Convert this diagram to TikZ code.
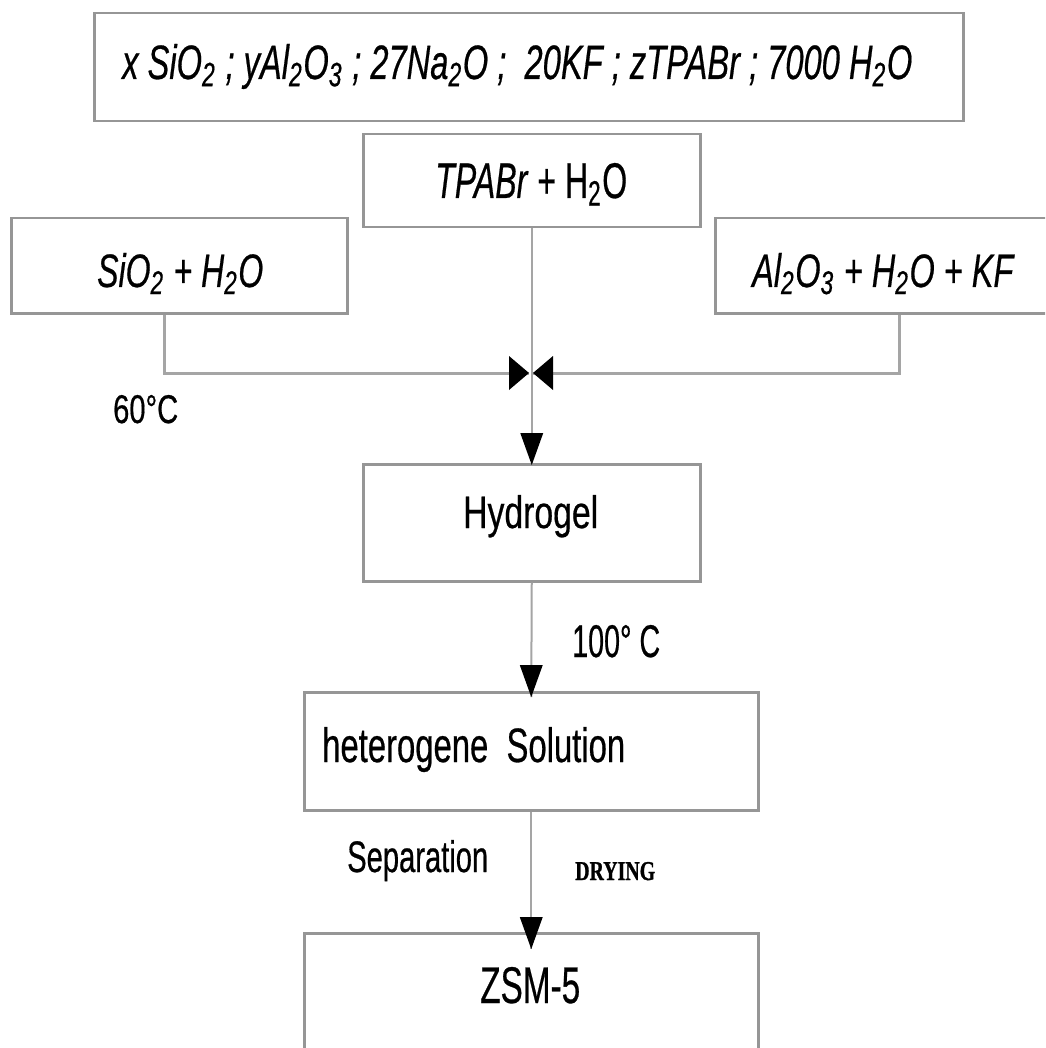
\documentclass[tikz,border=0pt]{standalone}
\usepackage{graphicx}
\usepackage{fontspec}
\setmainfont{Liberation Sans}[FakeBold=0.6,ItalicFeatures={FakeBold=0.6}]
\newfontfamily\dryfont{Liberation Serif}[BoldFeatures={FakeBold=1.2}]
\usetikzlibrary{arrows.meta}
\newcommand{\fitt}[3]{\resizebox{#1pt}{#2pt}{#3}}
\newcommand{\chsub}[1]{\textsubscript{#1}}
\definecolor{boxgray}{RGB}{150,150,150}
\definecolor{linegray}{RGB}{165,165,165}
\tikzset{
  boxnode/.style={draw=boxgray, line width=2.5pt, fill=white, inner sep=0pt, anchor=north west},
  lbl/.style={inner sep=0pt, anchor=base west, text=black},
  sideconn/.style={draw=linegray, line width=3pt},
  midconn/.style={draw=linegray, line width=2pt},
}
\begin{document}
\begin{tikzpicture}[x=1pt,y=-1pt]
\clip (0,0) rectangle (1045,1048);
\fill[white] (0,0) rectangle (1045,1048);
% boxes
\node[boxnode, minimum width=869pt, minimum height=108pt] (top) at (93,12) {};
\node[boxnode, minimum width=337pt, minimum height=93pt] (tpa) at (362,133) {};
\node[boxnode, minimum width=336pt, minimum height=95pt] (sio) at (10,217) {};
\node[boxnode, minimum width=346pt, minimum height=95pt] (alo) at (714,217) {};
\node[boxnode, minimum width=337pt, minimum height=117pt] (hyd) at (362,463) {};
\node[boxnode, minimum width=454pt, minimum height=118pt] (het) at (303,691) {};
\node[boxnode, minimum width=454pt, minimum height=140pt] (zsm) at (303,932) {};
% junction points
\coordinate (meetL) at (529,373);
\coordinate (meetR) at (533,373);
% connectors
\draw[sideconn] ([xshift=-15pt]sio.south) |- (meetL);
\draw[sideconn] ([xshift=11pt]alo.south) |- (meetR);
\fill[black] (meetL) -- ++(-20,-17) -- ++(0,34) -- cycle;
\fill[black] (meetR) -- ++(20,-17) -- ++(0,34) -- cycle;
\draw[midconn] (tpa.south) -- (hyd.north);
\fill[black] ([yshift=-2pt]hyd.north) -- ++(-11.5,-32) -- ++(23,0) -- cycle;
\draw[midconn] (hyd.south) -- ([yshift=-6pt]het.north);
\fill[black] ([yshift=-6pt]het.north) -- ++(-11.5,-32) -- ++(23,0) -- cycle;
\draw[midconn] (het.south) -- ([yshift=-17pt]zsm.north);
\fill[black] ([yshift=-17pt]zsm.north) -- ++(-11.5,-32) -- ++(23,0) -- cycle;
% texts
\node[lbl] (ttop) at (122,79) {\fitt{790}{35}{\itshape x SiO\chsub{2} ; yAl\chsub{2}O\chsub{3} ; 27Na\chsub{2}O ;\ \ 20KF ; zTPABr ; 7000 H\chsub{2}O}};
\node[lbl] (ttpa) at (435,198) {\fitt{192}{35}{\textit{TPABr} + H\chsub{2}O}};
\node[lbl] (tsio) at (97,287) {\fitt{166}{34}{\itshape SiO\chsub{2} + H\chsub{2}O}};
\node[lbl] (talo) at (752,287) {\fitt{261}{34}{\itshape Al\chsub{2}O\chsub{3} + H\chsub{2}O + KF}};
\node[lbl] (tsixty) at (113,423) {\fitt{65}{28}{60°C}};
\node[lbl] (thyd) at (463,528) {\fitt{135}{33}{Hydrogel}};
\node[lbl] (thund) at (572,657) {\fitt{88}{32}{100° C}};
\node[lbl] (thet) at (322,762) {\fitt{303}{35}{heterogene\ \ Solution}};
\node[lbl] (tsep) at (347,872) {\fitt{141}{32}{Separation}};
\node[lbl] (tdry) at (575,880) {\fitt{80}{18}{\dryfont\bfseries DRYING}};
\node[lbl] (tzsm) at (480,1003) {\fitt{100}{36}{ZSM-5}};
\end{tikzpicture}
\end{document}
